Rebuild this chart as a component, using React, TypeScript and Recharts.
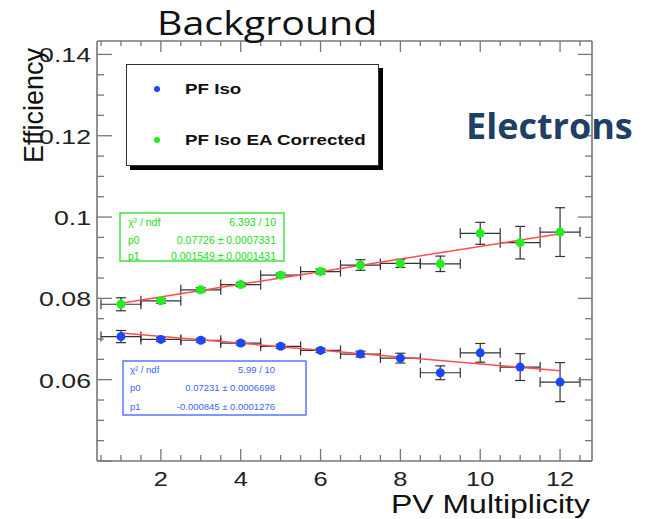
import React from "react";
import { ScatterChart, Scatter, XAxis, YAxis, ErrorBar, Legend } from "recharts";

// PV multiplicity bins (x error = half bin width)
const pvMult = [1, 2, 3, 4, 5, 6, 7, 8, 9, 10, 11, 12];
const pvHalfBin = [0.5, 0.5, 0.5, 0.5, 0.5, 0.5, 0.5, 0.5, 0.5, 0.5, 0.5, 0.5];

// PF Iso (blue)
const pfIso = [0.0706, 0.0699, 0.0697, 0.069, 0.0682, 0.0672, 0.0663, 0.0653, 0.0617, 0.0666, 0.0631, 0.0594];
const pfIsoErr = [0.0015, 0.0005, 0.0005, 0.0005, 0.0005, 0.0005, 0.0007, 0.0012, 0.0017, 0.0023, 0.0033, 0.0048];

// PF Iso EA Corrected (green)
const pfIsoEA = [0.07855, 0.0794, 0.0821, 0.0834, 0.0857, 0.0866, 0.0882, 0.0886, 0.0885, 0.096, 0.0937, 0.0963];
const pfIsoEAErr = [0.0016, 0.0006, 0.0005, 0.0005, 0.0005, 0.0006, 0.0013, 0.001, 0.0019, 0.0027, 0.004, 0.006];

// straight-line fits, end points
const fitX = [1, 12];
const pfIsoFit = [0.0715, 0.0622];
const pfIsoEAFit = [0.0788, 0.0959];

const xTicks = [0.5, 1, 1.5, 2, 2.5, 3, 3.5, 4, 4.5, 5, 5.5, 6, 6.5, 7, 7.5, 8, 8.5, 9, 9.5, 10, 10.5, 11, 11.5, 12, 12.5];
const xLabels = [2, 4, 6, 8, 10, 12];
const yTicks = [0.04, 0.045, 0.05, 0.055, 0.06, 0.065, 0.07, 0.075, 0.08, 0.085, 0.09, 0.095, 0.1, 0.105, 0.11, 0.115, 0.12, 0.125, 0.13, 0.135, 0.14];
const yLabels = [0.06, 0.08, 0.1, 0.12, 0.14];

const BLUE = "#1a47ff";
const GREEN = "#1fef1f";
const FIT = "#ff4d4d";
const AXIS = "#777";
const FONT = "'Liberation Sans', Arial, sans-serif";
const STRETCH = 1.27;

const toPoints = (ys: number[], errs: number[]) =>
    pvMult.map((x, i) => ({ x, y: ys[i], ex: pvHalfBin[i], ey: errs[i] }));
const toFit = (ys: number[]) => fitX.map((x, i) => ({ x, y: ys[i] }));

const isMajorX = (v: number) => xLabels.includes(v);
const isMajorY = (v: number) => Math.round(v * 1000) % 20 === 0;

function BottomTick(props: any) {
    const { x, y, payload } = props;
    const v = payload.value;
    const major = isMajorX(v);
    return (
        <g>
            <line x1={x} x2={x} y1={y} y2={y - (major ? 12 : 6)} stroke={AXIS} strokeWidth={1.3} />
            {major && (
                <text transform={`translate(${x},${y + 25}) scale(${STRETCH},1)`} textAnchor="middle"
                    fontFamily={FONT} fontSize={20} fill="#222">
                    {v}
                </text>
            )}
        </g>
    );
}

function TopTick(props: any) {
    const { x, y, payload } = props;
    const major = isMajorX(payload.value);
    return <line x1={x} x2={x} y1={y} y2={y + (major ? 11 : 5)} stroke={AXIS} strokeWidth={1.3} />;
}

function LeftTick(props: any) {
    const { x, y, payload } = props;
    const v = payload.value;
    const major = isMajorY(v);
    return (
        <g>
            <line x1={x} x2={x + (major ? 15 : 7)} y1={y} y2={y} stroke={AXIS} strokeWidth={1.3} />
            {yLabels.includes(v) && (
                <text transform={`translate(${x - 6},${y + 8}) scale(${STRETCH},1)`} textAnchor="end"
                    fontFamily={FONT} fontSize={21} fill="#222">
                    {Number(v.toFixed(3)).toString()}
                </text>
            )}
        </g>
    );
}

function RightTick(props: any) {
    const { x, y, payload } = props;
    const major = isMajorY(payload.value);
    return <line x1={x} x2={x - (major ? 14 : 7)} y1={y} y2={y} stroke={AXIS} strokeWidth={1.3} />;
}

function Marker(color: string) {
    return (p: any) => <circle cx={p.cx} cy={p.cy} r={4.5} fill={color} />;
}

function LegendBox() {
    const row = (color: string, label: string, top: number) => (
        <div style={{ position: "absolute", left: 0, top: top - 10, height: 20, width: 250 }}>
            <div style={{ position: "absolute", left: 28, top: 7, width: 6, height: 6, borderRadius: 3, background: color }} />
            <div style={{
                position: "absolute", left: 59, top: 1, whiteSpace: "nowrap",
                fontFamily: FONT, fontWeight: "bold", fontSize: 15, color: "#111",
                transform: "scaleX(1.25)", transformOrigin: "left center",
            }}>
                {label}
            </div>
        </div>
    );
    return (
        <div style={{ position: "relative", width: 258, height: 107 }}>
            <div style={{ position: "absolute", left: 4, top: 4, width: 253, height: 102, background: "#000" }} />
            <div style={{
                position: "absolute", left: 0, top: 0, width: 253, height: 102,
                background: "#fff", border: "1px solid #333", boxSizing: "border-box",
            }} />
            {row(BLUE, "PF Iso", 25)}
            {row(GREEN, "PF Iso EA Corrected", 76)}
        </div>
    );
}

function StatBox(props: { x: number; y: number; w: number; h: number; color: string; size: number;
    rows: number[]; labelX: number; valueX: number; lines: string[][] }) {
    const { x, y, w, h, color, size, rows, labelX, valueX, lines } = props;
    return (
        <g>
            <rect x={x} y={y} width={w} height={h} fill="#fff" stroke={color} strokeWidth={1.3} />
            {lines.map((l, i) => (
                <g key={i}>
                    <text x={labelX} y={rows[i] + size * 0.36} fontFamily={FONT} fontSize={size} fill={color}>{l[0]}</text>
                    <text x={valueX} y={rows[i] + size * 0.36} fontFamily={FONT} fontSize={size} fill={color} textAnchor="end">{l[1]}</text>
                </g>
            ))}
        </g>
    );
}

export default function App() {
    return (
        <div style={{ position: "absolute", left: 0, top: 0, width: 660, height: 519, background: "#fff" }}>
            <ScatterChart width={660} height={519} margin={{ top: 40, right: 67, bottom: 57, left: 96 }}>
                <XAxis xAxisId="b" dataKey="x" type="number" domain={[0.4, 12.8]} allowDataOverflow
                    ticks={xTicks} interval={0} tickSize={0} tickMargin={0} tickLine={false} height={1}
                    axisLine={{ stroke: AXIS, strokeWidth: 1.6 }} tick={<BottomTick />} />
                <XAxis xAxisId="t" orientation="top" dataKey="x" type="number" domain={[0.4, 12.8]} allowDataOverflow
                    ticks={xTicks} interval={0} tickSize={0} tickMargin={0} tickLine={false} height={1}
                    axisLine={{ stroke: AXIS, strokeWidth: 1.6 }} tick={<TopTick />} />
                <YAxis yAxisId="l" dataKey="y" type="number" domain={[0.04, 0.1433]} allowDataOverflow
                    ticks={yTicks} interval={0} tickSize={0} tickMargin={0} tickLine={false} width={1}
                    axisLine={{ stroke: AXIS, strokeWidth: 1.6 }} tick={<LeftTick />} />
                <YAxis yAxisId="r" orientation="right" dataKey="y" type="number" domain={[0.04, 0.1433]} allowDataOverflow
                    ticks={yTicks} interval={0} tickSize={0} tickMargin={0} tickLine={false} width={1}
                    axisLine={{ stroke: AXIS, strokeWidth: 1.6 }} tick={<RightTick />} />

                <Scatter data={toFit(pfIsoEAFit)} xAxisId="b" yAxisId="l" legendType="none"
                    line={{ stroke: FIT, strokeWidth: 1.5 }} shape={() => <g />} isAnimationActive={false} />
                <Scatter data={toFit(pfIsoFit)} xAxisId="b" yAxisId="l" legendType="none"
                    line={{ stroke: FIT, strokeWidth: 1.5 }} shape={() => <g />} isAnimationActive={false} />
                <Scatter name="PF Iso EA Corrected" data={toPoints(pfIsoEA, pfIsoEAErr)} xAxisId="b" yAxisId="l"
                    shape={Marker(GREEN)} isAnimationActive={false}>
                    <ErrorBar dataKey="ex" direction="x" width={5} stroke="#333" strokeWidth={1.2} />
                    <ErrorBar dataKey="ey" direction="y" width={5} stroke="#333" strokeWidth={1.2} />
                </Scatter>
                <Scatter name="PF Iso" data={toPoints(pfIso, pfIsoErr)} xAxisId="b" yAxisId="l"
                    shape={Marker(BLUE)} isAnimationActive={false}>
                    <ErrorBar dataKey="ex" direction="x" width={5} stroke="#333" strokeWidth={1.2} />
                    <ErrorBar dataKey="ey" direction="y" width={5} stroke="#333" strokeWidth={1.2} />
                </Scatter>

                <Legend content={() => <LegendBox />} layout="horizontal" verticalAlign="middle" align="center"
                    wrapperStyle={{ position: "absolute", left: 126, top: 64, width: 258, height: 107 }} />
            </ScatterChart>

            <svg width={660} height={519} style={{ position: "absolute", left: 0, top: 0, pointerEvents: "none" }}>
                <text transform={`translate(157,35) scale(1.23,1)`} fontFamily="'Open Sans', sans-serif" fontSize={32} fill="#111">
                    Background
                </text>
                <text x={466} y={139} fontFamily="'Open Sans', sans-serif" fontWeight="bold" fontSize={36} fill="#203f66">
                    Electrons
                </text>
                <text transform="translate(43,163) rotate(-90)" fontFamily={FONT} fontSize={27} fill="#111">
                    Efficiency
                </text>
                <text transform={`translate(590,513) scale(1.28,1)`} textAnchor="end" fontFamily={FONT} fontSize={25} fill="#111">
                    PV Multiplicity
                </text>
                <StatBox x={120} y={213} w={164} h={48} color="#22dd22" size={10.5}
                    rows={[222, 240, 256]} labelX={128} valueX={276}
                    lines={[["χ² / ndf", "6.393 / 10"], ["p0", "0.07726 ± 0.0007331"], ["p1", "0.001549 ± 0.0001431"]]} />
                <StatBox x={123} y={361} w={183} h={54} color="#3d63ff" size={9.5}
                    rows={[370, 388, 407]} labelX={130} valueX={275}
                    lines={[["χ² / ndf", "5.99 / 10"], ["p0", "0.07231 ± 0.0006698"], ["p1", "-0.000845 ± 0.0001276"]]} />
            </svg>
        </div>
    );
}
